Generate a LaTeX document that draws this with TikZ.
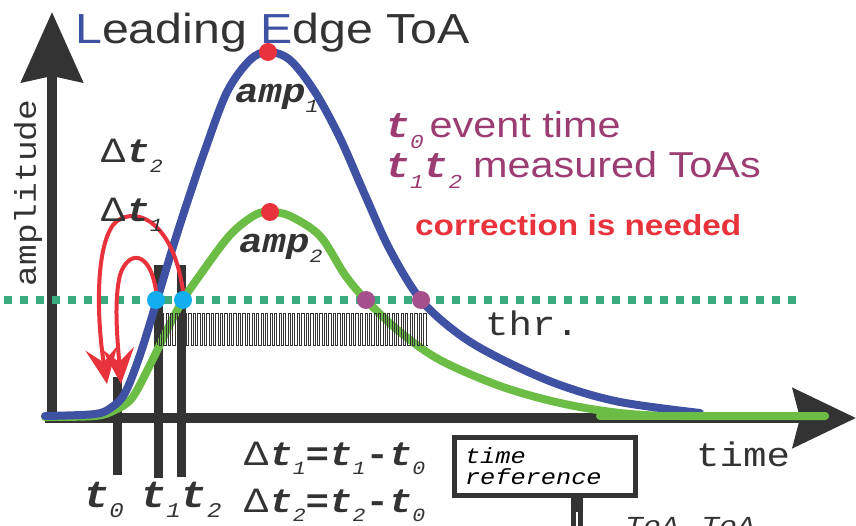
\documentclass[tikz,border=0pt]{standalone}
\usepackage{fontspec}
\usepackage{graphicx}
\usetikzlibrary{arrows.meta,positioning,calc}
\newfontfamily\sansf{Liberation Sans}[FakeStretch=1.15]
\newfontfamily\monof{Liberation Mono}[FakeStretch=1.15]
\definecolor{axisgray}{HTML}{333333}
\definecolor{sigblue}{HTML}{3F51A3}
\definecolor{siggreen}{HTML}{6CBD45}
\definecolor{thrgreen}{HTML}{3BAA7E}
\definecolor{hitcyan}{HTML}{12AEEF}
\definecolor{hitpurple}{HTML}{A5508C}
\definecolor{txtpurple}{HTML}{9B3D72}
\definecolor{ecred}{HTML}{E8323C}
\newcommand{\fs}[1]{\fontsize{#1}{#1}\selectfont}
\newcommand{\subsc}[1]{\raisebox{-.28em}{\scalebox{.55}{\monof\itshape #1}}}
\newcommand{\tv}[1]{{\monof\bfseries\itshape t}\subsc{#1}}
\tikzset{
  >=Stealth,
  axis/.style={draw=axisgray,line width=10pt},
  curve/.style={line width=8pt,line join=round,line cap=round},
  bar/.style={draw=axisgray,line width=9pt},
  dot/.style={circle,fill=#1,minimum size=18pt,inner sep=0pt},
  redarrow/.style={draw=ecred,line width=4pt,-{Stealth[length=36pt,width=32pt,inset=14pt]}},
  lbl/.style={inner sep=0pt,anchor=base west,text=axisgray},
  refbox/.style={draw=axisgray,line width=5pt,minimum width=181pt,minimum height=58pt,
    text width=160pt,align=left,inner xsep=10pt,font=\monof\itshape\fontsize{22}{21}\selectfont}
}
\begin{document}
\begin{tikzpicture}[x=1pt,y=-1pt]
\useasboundingbox (0,0) rectangle (856,526);
% axes
\coordinate (origin) at (45,418);
\draw[axis,-{Stealth[length=63pt,width=59pt,inset=7pt]}] (origin) -- (856,418);
\draw[axis,-{Stealth[length=70pt,width=61pt,inset=6pt]}] (52,423) -- (52,12);
% threshold
\draw[thrgreen,line width=8.5pt,dash pattern=on 8pt off 8pt] (4,300) -- (800,300);
% time marks
\draw[bar] (117,377) -- (117,475);
\draw[bar] (158,265) -- (158,478);
\draw[bar] (181,265) -- (181,477);
% signals
\draw[curve,siggreen] plot[smooth,tension=0.55] coordinates {(45,417) (95,416) (115,410) (132,398) (150,365) (167,330) (183,300) (200,275) (230,235) (255,215) (270,212) (290,216) (320,236) (345,275) (366,300) (400,332) (440,360) (500,386) (560,403) (620,413) (680,416) (825,416)};
\draw[curve,sigblue] plot[smooth,tension=0.55] coordinates {(45,416) (95,414) (112,407) (125,393) (140,355) (157,300) (172,250) (187,203) (205,150) (227,92) (250,60) (268,52) (290,60) (315,92) (340,138) (365,195) (390,250) (421,300) (460,335) (503,360) (560,385) (620,402) (700,413)};
\draw[curve,siggreen] (600,416) -- (825,416);
% pulse train
\draw[axisgray,line width=0.8pt] (157,345) \foreach \i in {1,...,60} { -- ++(0,-32) -- ++(2.26,0) -- ++(0,32) -- ++(2.26,0) };
% crossings and peaks
\node[dot=hitcyan] (c1) at (156,300) {};
\node[dot=hitcyan] (c2) at (183,300) {};
\node[dot=hitpurple] (p2) at (366,300) {};
\node[dot=hitpurple] (p1) at (421,300) {};
\node[dot=ecred] (m1) at (268,52) {};
\node[dot=ecred] (m2) at (270,212) {};
% corrections
\coordinate (e1) at (121,384);
\coordinate (e2) at (107,384);
\draw[redarrow] (c1.north) .. controls (150,250) and (128,250) .. (120,275) .. controls (114,300) and (117,335) .. (e1);
\draw[redarrow] (c2.north) .. controls (172,215) and (130,205) .. (113,225) .. controls (95,250) and (97,320) .. (e2);
% labels
\node[lbl,font=\sansf\fs{42}] (title) at (75,44) {\textcolor{sigblue}{L}eading \textcolor{sigblue}{E}dge ToA};
\node[inner sep=0pt,rotate=90,text=axisgray,font=\monof\fs{30}] (ylabel) at (28,193) {amplitude};
\node[lbl,font=\fs{34}] (amp1) at (235,103) {{\monof\bfseries\itshape amp}\subsc{1}};
\node[lbl,font=\fs{34}] (amp2) at (239,253) {{\monof\bfseries\itshape amp}\subsc{2}};
\node[lbl,font=\monof\fs{34}] (thr) at (485,335) {thr.};
\node[lbl,font=\fs{34}] (dt2) at (100,163) {{\sansf\fs{34}Δ}\tv{2}};
\node[lbl,font=\fs{34}] (dt1) at (100,222) {{\sansf\fs{34}Δ}\tv{1}};
\node[lbl,font=\fs{38}] (t0) at (83,507) {\tv{0}};
\node[lbl,font=\fs{38}] (t1) at (140,507) {\tv{1}\tv{2}};
\node[lbl,font=\fs{34}] (eq1) at (243,465) {{\sansf Δ}\tv{1}{\monof\bfseries=}\tv{1}{\monof\bfseries-}\tv{0}};
\node[lbl,font=\fs{34}] (eq2) at (243,512) {{\sansf Δ}\tv{2}{\monof\bfseries=}\tv{2}{\monof\bfseries-}\tv{0}};
\node[lbl,text=txtpurple,font=\fs{36}] (ev) at (385,138) {\tv{0}\,{\sansf event time}};
\node[lbl,text=txtpurple,font=\fs{36}] (ms) at (385,178) {\tv{1}\tv{2}\ {\sansf measured ToAs}};
\node[lbl,text=ecred,font=\sansf\bfseries\fs{29}] (corr) at (415,236) {correction is needed};
\node[lbl,font=\fs{34}] (tlbl) at (696,466) {{\monof time}};
% time reference
\node[refbox] (tref) at (545,466) {time\\reference};
\coordinate (toaend) at (577,540);
\draw[axisgray,line width=12pt] (tref.south -| toaend) -- (toaend);
\draw[white,line width=2pt] (577,512) -- (toaend);
\node[lbl,font=\monof\itshape\fs{26}] (toa) at (625,534) {ToA\,-ToA};
\end{tikzpicture}
\end{document}
